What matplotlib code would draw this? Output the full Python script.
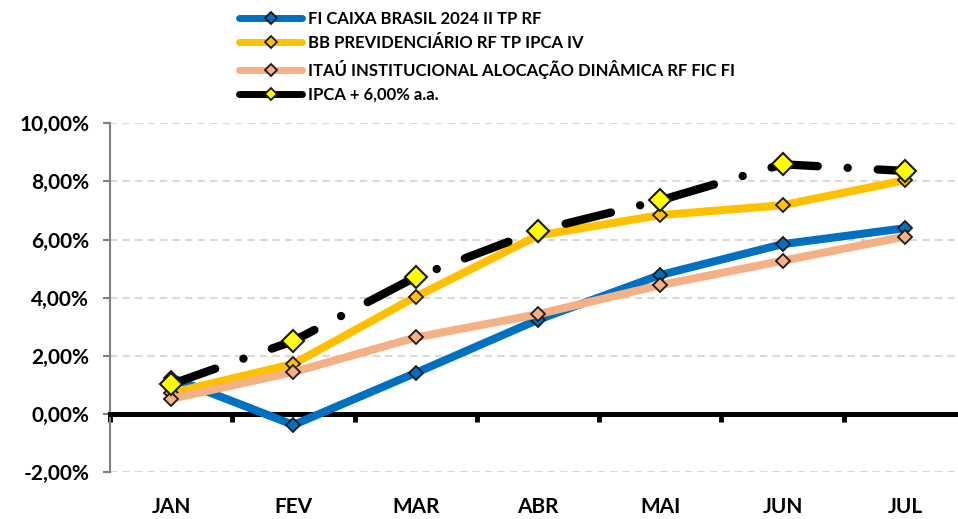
import numpy as np
import matplotlib.pyplot as plt
from matplotlib.lines import Line2D

# dados (% acumulado no ano)
meses = ['JAN', 'FEV', 'MAR', 'ABR', 'MAI', 'JUN', 'JUL']
caixa = [1.25, -0.38, 1.41, 3.24, 4.78, 5.84, 6.39]
bb = [0.72, 1.72, 4.03, 6.14, 6.84, 7.18, 8.04]
itau = [0.52, 1.44, 2.63, 3.43, 4.43, 5.27, 6.10]
ipca = [1.02, 2.51, 4.71, 6.31, 7.35, 8.59, 8.36]

nomes = ['FI CAIXA BRASIL 2024 II TP RF',
         'BB PREVIDENCIÁRIO RF TP IPCA IV',
         'ITAÚ INSTITUCIONAL ALOCAÇÃO DINÂMICA RF FIC FI',
         'IPCA + 6,00% a.a.']

AZUL = '#0070C0'
AMARELO = '#FFC000'
PESSEGO = '#F4B183'

plt.rcParams['font.family'] = ['Lato', 'DejaVu Sans']
plt.rcParams['font.weight'] = 'bold'

fig = plt.figure(figsize=(9.58, 5.19), dpi=100)
ax = fig.add_axes([110/958, 1 - 472/519, (966 - 110)/958, (472 - 123.3)/519])

x = np.arange(len(meses))

ax.plot(x, caixa, color=AZUL, lw=5.8, marker='D', ms=6.8, mfc=AZUL,
        mec='#1a1a1a', mew=1.3, zorder=3, solid_capstyle='round')
ax.plot(x, bb, color=AMARELO, lw=5.8, marker='D', ms=6.8, mfc=AMARELO,
        mec='#1a1a1a', mew=1.3, zorder=3, solid_capstyle='round')
ax.plot(x, itau, color=PESSEGO, lw=5.8, marker='D', ms=6.8, mfc=PESSEGO,
        mec='#1a1a1a', mew=1.3, zorder=3, solid_capstyle='round')
ax.plot(x, ipca, color='black', lw=6, ls=(0, (5.6, 3.6, 0.01, 3.6)),
        dash_capstyle='round', zorder=4)
ax.plot(x, ipca, ls='none', marker='D', ms=11, mfc='#FFFF00',
        mec='#1a1a1a', mew=1.5, zorder=5)

ax.set_xlim(-0.5, 6.5)
ax.set_ylim(-2, 10)
ax.set_yticks(np.arange(-2, 11, 2))
ax.set_yticklabels([f'{v:.2f}%'.replace('.', ',') for v in np.arange(-2, 11, 2)],
                   fontsize=15, fontweight='bold')
ax.yaxis.grid(True, color='#D9D9D9', lw=1.5, ls=(0, (3.5, 2.5)))
ax.set_axisbelow(True)

for s in ['top', 'right']:
    ax.spines[s].set_visible(False)
ax.spines['left'].set_color('#7f7f7f')
ax.spines['left'].set_linewidth(1.5)
ax.tick_params(axis='y', colors='#7f7f7f', length=5, width=1.5, labelcolor='black', pad=10)

ax.spines['bottom'].set_position(('data', 0))
ax.spines['bottom'].set_linewidth(3.6)
ax.spines['bottom'].set_color('black')
ax.set_xticks(x)
ax.set_xticklabels(meses, fontsize=15, fontweight='bold')
ax.set_xticks(np.arange(-0.5, 7, 1), minor=True)
ax.tick_params(axis='x', which='major', length=0, pad=60)
ax.tick_params(axis='x', which='minor', length=6, width=3.5, color='black', direction='out')

handles = [
    Line2D([], [], color=AZUL, lw=5, marker='D', ms=6, mfc=AZUL, mec='#1a1a1a', mew=1.3, solid_capstyle='round'),
    Line2D([], [], color=AMARELO, lw=5, marker='D', ms=6, mfc=AMARELO, mec='#1a1a1a', mew=1.3, solid_capstyle='round'),
    Line2D([], [], color=PESSEGO, lw=5, marker='D', ms=6, mfc=PESSEGO, mec='#1a1a1a', mew=1.3, solid_capstyle='round'),
    Line2D([], [], color='black', lw=5, marker='D', ms=6, mfc='#FFFF00', mec='#1a1a1a', mew=1.3, solid_capstyle='round'),
]
fig.legend(handles, nomes, loc='upper left', bbox_to_anchor=(239/958, 1 - 11/519),
           frameon=False, prop={'size': 12, 'weight': 'bold'},
           handlelength=3.8, handletextpad=0.35, labelspacing=0.5,
           borderaxespad=0, borderpad=0)

fig.savefig('out.png', dpi=100)
